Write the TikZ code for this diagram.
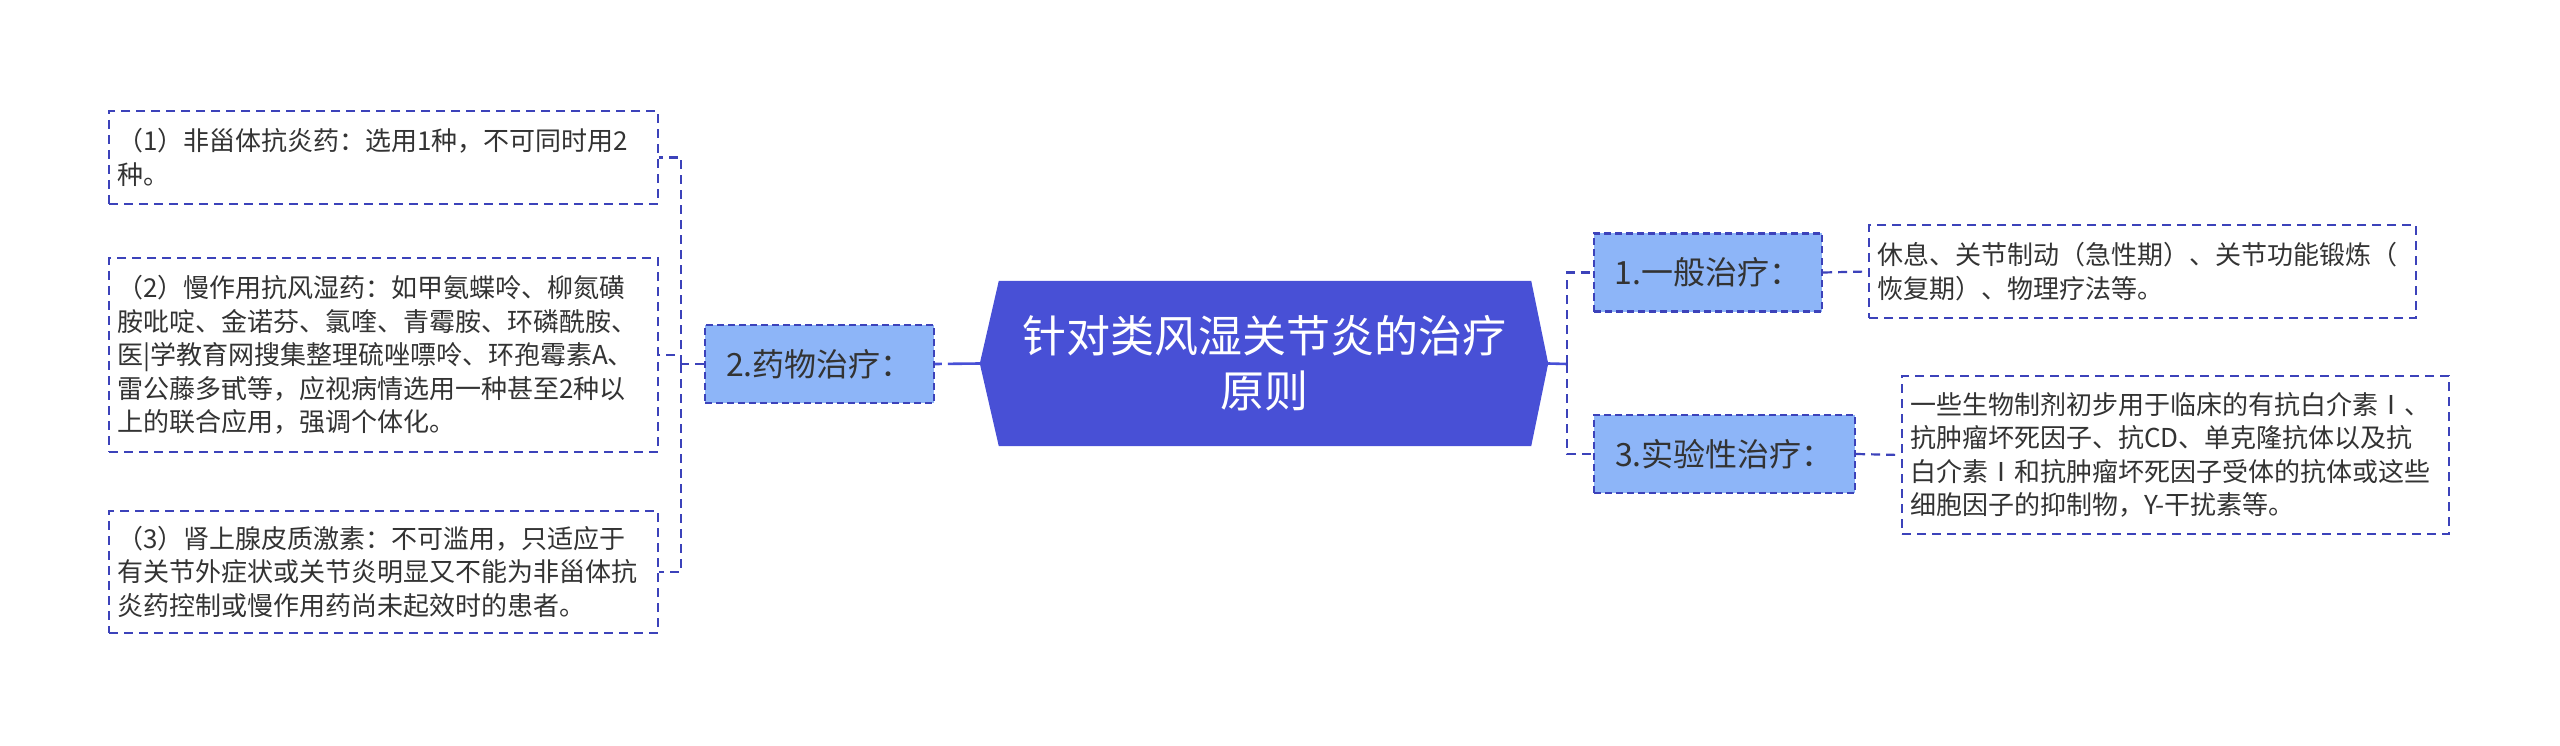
\documentclass[tikz,border=0pt]{standalone}
\usepackage{fontspec}
\setmainfont{Noto Sans CJK SC}
\usetikzlibrary{calc}
\definecolor{hexblue}{RGB}{72,80,214}
\definecolor{lblue}{RGB}{141,181,248}
\definecolor{bord}{RGB}{60,66,186}
\definecolor{txt}{RGB}{51,51,51}
\begin{document}
\begin{tikzpicture}[x=1pt,y=-1pt,
  leaf/.style={draw=bord, line width=2.2pt, dash pattern=on 9pt off 6pt, fill=white, text=txt,
    font=\fontsize{26}{33.5}\selectfont, align=left, text width=533pt, inner xsep=8pt, inner ysep=12pt,
    minimum width=549pt, anchor=center},
  cat/.style={draw=bord, line width=2.2pt, dash pattern=on 7pt off 4pt, fill=lblue, text=txt,
    font=\fontsize{32}{40}\selectfont, inner xsep=15pt, minimum height=78pt, anchor=center},
  conn/.style={draw=bord, line width=2.2pt, dash pattern=on 9pt off 6pt},
  solidconn/.style={draw=hexblue, line width=2.6pt}]
\useasboundingbox (0,0) rectangle (2560,746);

% central node
\node[minimum width=568pt, minimum height=165pt, inner sep=0pt] (root) at (1264,363.5) {};
\fill[hexblue] ($(root.north west)+(19,0)$) -- (root.west) -- ($(root.south west)+(19,0)$)
  -- ($(root.south east)+(-17,0)$) -- (root.east) -- ($(root.north east)+(-17,0)$) -- cycle;
\node[text=white, align=center, font=\fontsize{44}{55}\selectfont, inner sep=0pt] (roottext) at (root.center)
  {针对类风湿关节炎的治疗\\原则};

% left side
\node[cat, minimum width=229pt] (drug) at (819.5,364) {2.药物治疗：};
\node[leaf, minimum height=93pt] (b1) at (383.5,157.5)
  {（1）非甾体抗炎药：选用1种，不可同时用2\\种。};
\node[leaf, minimum height=194pt] (b2) at (383.5,355)
  {（2）慢作用抗风湿药：如甲氨蝶呤、柳氮磺\\胺吡啶、金诺芬、氯喹、青霉胺、环磷酰胺、\\医|学教育网搜集整理硫唑嘌呤、环孢霉素A、\\雷公藤多甙等，应视病情选用一种甚至2种以\\上的联合应用，强调个体化。};
\node[leaf, minimum height=122pt] (b3) at (383.5,572)
  {（3）肾上腺皮质激素：不可滥用，只适应于\\有关节外症状或关节炎明显又不能为非甾体抗\\炎药控制或慢作用药尚未起效时的患者。};

% right side
\node[cat, minimum width=228pt] (gen) at (1708,272.5) {1.一般治疗：};
\node[cat, minimum width=261pt] (exp) at (1724.5,454) {3.实验性治疗：};
\node[leaf, text width=531pt, minimum width=547pt, minimum height=93pt] (r1) at (2142.5,271.5)
  {休息、关节制动（急性期）、关节功能锻炼（\\恢复期）、物理疗法等。};
\node[leaf, text width=531pt, minimum width=547pt, minimum height=158pt] (r2) at (2175.5,455)
  {一些生物制剂初步用于临床的有抗白介素Ⅰ、\\抗肿瘤坏死因子、抗CD、单克隆抗体以及抗\\白介素Ⅰ和抗肿瘤坏死因子受体的抗体或这些\\细胞因子的抑制物，Y-干扰素等。};

% connectors
\coordinate (lj) at (681,364);
\coordinate (rj) at (1567,364);
\draw[solidconn, dash pattern=on 32pt off 6pt] (root.west) -- (drug.east);
\draw[conn] (drug.west) -- (lj);
\draw[conn] (lj) |- (b1.east);
\draw[conn] (lj) |- (b2.east);
\draw[conn] (lj) |- (b3.east);
\draw[solidconn] (root.east) -- (rj);
\draw[conn] (rj) |- (gen.west);
\draw[conn] (rj) |- (exp.west);
\draw[conn] (gen.east) -- (r1.west);
\draw[conn] (exp.east) -- (r2.west);
\end{tikzpicture}
\end{document}
